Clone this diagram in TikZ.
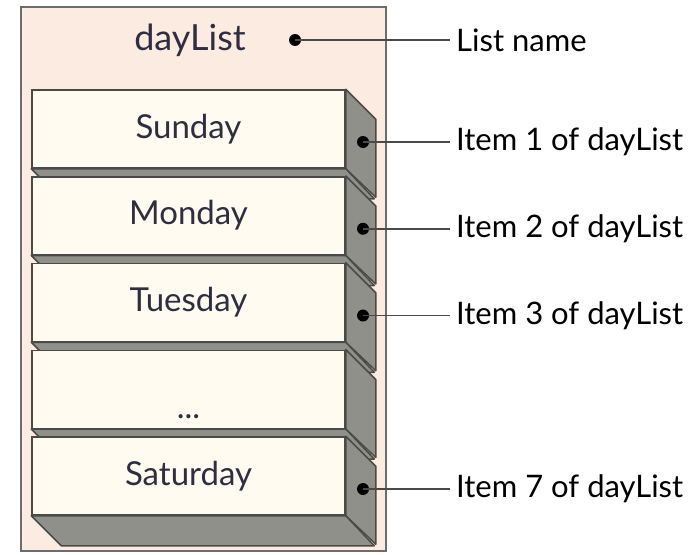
\documentclass[tikz,border=0pt]{standalone}
\usepackage{fontspec}
\setmainfont{Lato}
\usetikzlibrary{positioning}
\definecolor{listbg}{HTML}{FCEBE0}
\definecolor{itembg}{HTML}{FFFBF0}
\definecolor{sidegray}{HTML}{8F908A}
\definecolor{edgegray}{HTML}{4A4A48}
\definecolor{inkblue}{HTML}{2E2E40}
\tikzset{
  itemface/.style={draw=edgegray,line width=1.5pt,fill=itembg,minimum width=313pt,
    minimum height=78pt,inner sep=0pt,text height=25pt,text depth=7pt,
    font=\fontsize{33}{38}\selectfont,text=inkblue},
  sideface/.style={draw=edgegray,line width=1.5pt,fill=sidegray,line join=round},
  callout/.style={anchor=west,inner sep=0pt,inner xsep=6pt,
    font=\fontsize{31}{36}\selectfont,text=black},
  leader/.style={edgegray,line width=1.6pt},
}
\begin{document}
\begin{tikzpicture}[x=1pt,y=-1pt]
\useasboundingbox (0,0) rectangle (700,554);
\fill[white] (0,0) rectangle (700,554);
% the list
\draw[fill=listbg,draw=gray!85!black,line width=2.5pt] (21,7) rectangle (386,551);
\node[font=\fontsize{36}{40}\selectfont,text=inkblue] (listname) at (190,40) {dayList};
\coordinate (namedot) at (295,40);
\node[callout] (lblname) at (450,40) {List name};
\fill (namedot) circle (6);
\draw[leader] (namedot) -- (lblname.west);
% items
\foreach \day/\num [count=\i from 0] in {Sunday/1,Monday/2,Tuesday/3,{\raisebox{-20pt}{...}}/0,Saturday/7}{
  \pgfmathsetmacro\boxtop{90+86.75*\i}
  \node[itemface] (item\i) at (188.5,\boxtop+39) {\day};
  \draw[sideface] (item\i.north east) -- ++(30,30) -- ++(0,78) -- (item\i.south east) -- cycle;
  \draw[sideface] (item\i.south west) -- ++(30,30) -- ++(313,0) -- (item\i.south east) -- cycle;
  \ifnum\num>0
    \coordinate (dot\num) at (363,\boxtop+52);
    \node[callout] (lbl\num) at (450,\boxtop+52) {Item \num\ of dayList};
    \fill (dot\num) circle (6);
    \draw[leader] (dot\num) -- (lbl\num.west);
  \fi
}
\end{tikzpicture}
\end{document}
